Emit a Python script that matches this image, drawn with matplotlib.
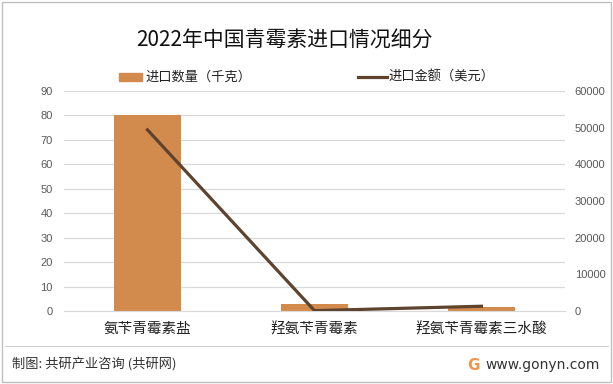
import matplotlib
matplotlib.use("Agg")
import matplotlib.pyplot as plt
from matplotlib.patches import Rectangle
from matplotlib.lines import Line2D

plt.rcParams['font.family'] = ['Noto Sans CJK SC', 'DejaVu Sans']

categories = ['氨苄青霉素盐', '羟氨苄青霉素', '羟氨苄青霉素三水酸']
quantity = [80, 3, 1.5]          # 进口数量（千克）
amount = [49400, 100, 1300]      # 进口金额（美元）
left_ticks = [0, 10, 20, 30, 40, 50, 60, 70, 80, 90]
right_ticks = [0, 10000, 20000, 30000, 40000, 50000, 60000]

bar_color = '#D38B4D'
line_color = '#5E432E'
tick_color = '#595959'

fig = plt.figure(figsize=(6.13, 3.84), dpi=100)
ax = fig.add_axes([64/613, 1-311/384, 501/613, 220/384])
ax2 = ax.twinx()

x = list(range(len(categories)))
ax.bar(x, quantity, width=0.4, color=bar_color, zorder=2)
ax2.plot(x, amount, color=line_color, lw=2.3, zorder=3)

ax.set_xlim(-0.5, 2.5)
ax.set_ylim(0, 90)
ax2.set_ylim(0, 60000)
ax.set_yticks(left_ticks)
ax2.set_yticks(right_ticks)
ax.set_xticks(x)
ax.set_xticklabels(categories, fontsize=10.5, color='#222222')
ax.yaxis.grid(True, color='#D9D9D9', lw=0.9, zorder=0)
ax.set_axisbelow(True)
for a in (ax, ax2):
    for s in a.spines.values():
        s.set_visible(False)
    a.tick_params(length=0, labelsize=8, colors=tick_color)
    for lab in a.get_yticklabels():
        lab.set_family(['Liberation Sans'])
ax.tick_params(axis='x', pad=8, colors='#222222', labelsize=10.5)
ax.tick_params(axis='y', pad=8)
ax2.tick_params(axis='y', pad=7)
ax.spines['bottom'].set_visible(True)
ax.spines['bottom'].set_color('#D9D9D9')
ax2.patch.set_visible(False)

# title
fig.text(284/613, 1-41/384, '2022年中国青霉素进口情况细分', ha='center', va='center',
         fontsize=15, color='#111111')

# legend (manual)
fig.patches.append(Rectangle((119/613, 1-81/384), 23/613, 8/384, transform=fig.transFigure,
                             color=bar_color))
fig.text(145/613, 1-77/384, '进口数量（千克）', ha='left', va='center', fontsize=9.5, color='#222222')
fig.lines.append(Line2D([358/613, 387/613], [1-77/384, 1-77/384], transform=fig.transFigure,
                        color=line_color, lw=2.3))
fig.text(388/613, 1-77/384, '进口金额（美元）', ha='left', va='center', fontsize=9.5, color='#222222')

# footer
fig.lines.append(Line2D([5/613, 608/613], [1-346/384, 1-346/384], transform=fig.transFigure,
                        color='#D0D0D0', lw=0.8))
fig.text(12/613, 1-365/384, '制图: 共研产业咨询 (共研网)', ha='left', va='center',
         fontsize=9.5, color='#333333')
fig.text(600/613, 1-365/384, 'www.gonyn.com', ha='right', va='center',
         fontsize=10, color='#333333', family=['DejaVu Sans'])
fig.text(473/613, 1-366/384, 'G', ha='center', va='center', fontsize=11, fontweight='bold',
         color='#F0964A', family=['DejaVu Sans'])

# border
fig.patches.append(Rectangle((2/613, 2/384), 609/613, 380/384, transform=fig.transFigure,
                             fill=False, edgecolor='#BFBFBF', lw=1))

fig.savefig('out.png', dpi=100)
